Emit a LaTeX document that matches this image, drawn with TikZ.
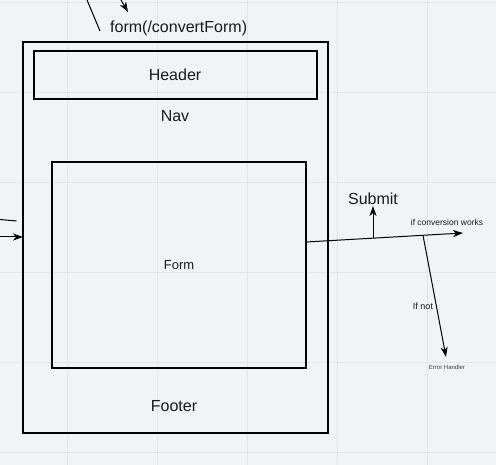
\documentclass[tikz,border=0pt]{standalone}
\usepackage{fontspec}
\setmainfont{Liberation Sans}
\usetikzlibrary{arrows.meta, positioning}
\definecolor{canvas}{RGB}{241,244,247}
\definecolor{gridline}{RGB}{225,230,235}
\definecolor{ink}{RGB}{26,26,26}
\definecolor{faint}{RGB}{60,60,60}

\begin{document}
\begin{tikzpicture}[
        x=1pt, y=-1pt,
        box/.style={rectangle, draw=black, line width=2pt, inner sep=0pt, outer sep=0pt, align=center, text=ink, font=\fontsize{16}{18}\selectfont},
        txt/.style={inner sep=0pt, text=ink, font=\fontsize{16}{18}\selectfont},
        small/.style={inner sep=0pt, text=ink, font=\fontsize{8.5}{10}\selectfont},
        wire/.style={draw=black, line width=1pt},
        arrow/.style={wire, -{Stealth[length=10pt, width=7pt, inset=3pt]}}
    ]
        % canvas and grid
        \fill[canvas] (0,0) rectangle (496,465);
        \useasboundingbox (0,0) rectangle (496,465);
        \foreach \gx in {67,157,247,337,427}
            \draw[gridline, line width=0.8pt] (\gx,0) -- (\gx,465);
        \foreach \gy in {2,92,182,272,362,452}
            \draw[gridline, line width=0.8pt] (0,\gy) -- (496,\gy);

        % page layout
        \node[box, minimum width=305pt, minimum height=391pt] (page) at (175.5,237.5) {};
        \node[box, minimum width=283pt, minimum height=48pt] (header) at (175,75) {Header};
        \node[txt] (nav) at (175,116) {Nav};
        \node[box, minimum width=254pt, minimum height=206pt, font=\fontsize{13}{15}\selectfont] (form) at (179,265) {Form};
        \node[txt] (footer) at (174,406) {Footer};

        % incoming
        \node[txt, anchor=west] (route) at (110,28.5) {form(/convertForm)};
        \coordinate (t1) at (87,0);
        \coordinate (t2) at (100,31);
        \draw[wire] (t1) -- (t2);
        \coordinate (t3) at (121,0);
        \coordinate (t4) at (128,12);
        \draw[arrow] (t3) -- (t4);
        \coordinate (l1) at (0,219.5);
        \coordinate (l2) at (16.5,221);
        \draw[wire] (l1) -- (l2);
        \coordinate (l3) at (0,237);
        \draw[arrow] (l3) -- (page.west |- l3);

        % outgoing
        \coordinate (r0) at (306,242);
        \coordinate (r1) at (463,233);
        \draw[arrow] (r0) -- (r1);
        \node[small] (works) at (447,222) {if conversion works};
        \node[txt] (submit) at (373,199) {Submit};
        \coordinate (s0) at (373,238.2);
        \coordinate (s1) at (373,206);
        \draw[arrow] (s0) -- (s1);
        \coordinate (e0) at (423,235.3);
        \coordinate (e1) at (446,357);
        \draw[arrow] (e0) -- (e1);
        \node[small, font=\fontsize{9}{10}\selectfont] (ifnot) at (423,306) {If not};
        \node[inner sep=0pt, text=faint, font=\fontsize{6}{7}\selectfont] (handler) at (447,367) {Error Handler};
    \end{tikzpicture}
\end{document}
